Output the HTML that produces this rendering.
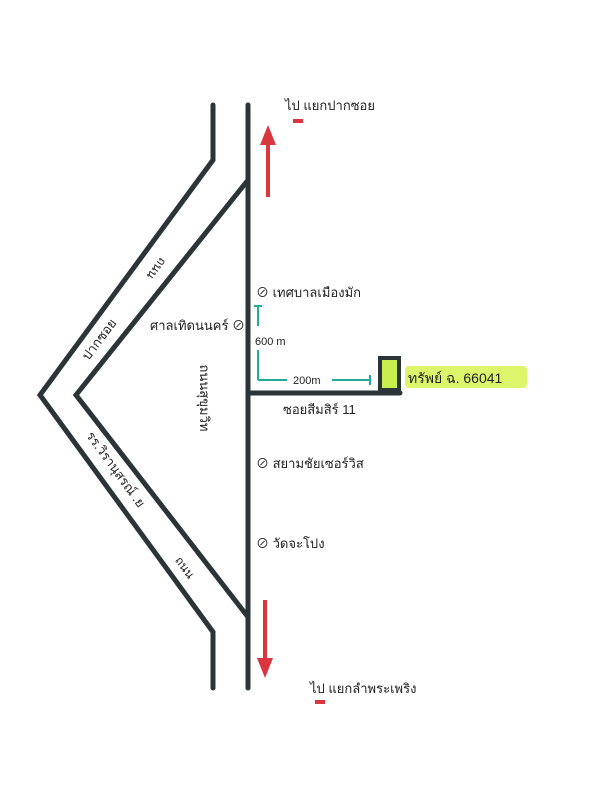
<!DOCTYPE html>
<html><head><meta charset="utf-8"><style>
html,body{margin:0;padding:0;background:#fff;}
svg{display:block;}
text{font-family:"Liberation Sans","Noto Sans CJK SC",sans-serif;fill:#222;}
</style></head><body>
<svg width="602" height="800" viewBox="0 0 602 800" xmlns="http://www.w3.org/2000/svg">
<g stroke="#2b3436" stroke-width="5" fill="none" stroke-linecap="round" stroke-linejoin="miter">
<polyline points="213,105 213,160 40,395 213,632 213,688"/>
<polyline points="248,105 248,688"/>
<polyline points="248,180 76,395 248,617"/>
<line x1="248" y1="393" x2="400" y2="393"/>
</g>
<rect x="380" y="358" width="19" height="32" fill="#c9ef4f" stroke="#2b3436" stroke-width="4"/>
<g stroke="#d9363e" stroke-width="4" fill="#d9363e">
<line x1="268" y1="197" x2="268" y2="140"/>
<polygon points="260,145 268,125 276,145" stroke="none"/>
<line x1="265" y1="600" x2="265" y2="662"/>
<polygon points="257,658 265,678 273,658" stroke="none"/>
<line x1="293" y1="121" x2="303" y2="121"/>
<line x1="315" y1="702" x2="325" y2="702"/>
</g>
<g stroke="#1faa9a" stroke-width="2">
<line x1="258" y1="306" x2="258" y2="326"/><line x1="254" y1="306" x2="262" y2="306"/>
<line x1="258" y1="350" x2="258" y2="380"/><line x1="258" y1="380" x2="287" y2="380"/>
<line x1="332" y1="380" x2="370" y2="380"/><line x1="370" y1="375" x2="370" y2="385"/>
</g>
<rect x="405" y="366" width="122" height="22" rx="4" fill="#dcf56a"/>
<g font-size="13">
<text x="285" y="110">ไป  แยกปากซอย</text>
<text x="310" y="693">ไป  แยกลำพระเพริง</text>
<text x="256" y="297">⊘ เทศบาลเมืองมัก</text>
<text x="150" y="330">ศาลเทิดนนคร์ ⊘</text>
<text x="255" y="345" font-size="11">600 m</text>
<text x="293" y="384" font-size="11">200m</text>
<text x="408" y="383" font-size="14">ทรัพย์  ฉ. 66041</text>
<text x="283" y="414">ซอยสีมสิร์ 11</text>
<text x="256" y="468">⊘ สยามชัยเซอร์วิส</text>
<text x="256" y="548">⊘ วัดจะโปง</text>
<text transform="translate(200,398) rotate(90)" text-anchor="middle">ถนนสุขุมวิท</text>
<g text-anchor="middle" dominant-baseline="middle">
<text transform="translate(156,268) rotate(127)" font-size="12">ถนน</text>
<text transform="translate(100,340) rotate(-53)">ปากซอย</text>
<text transform="translate(115,470) rotate(54)">รร.วิรานุสรณ์ .ย</text>
<text transform="translate(184,568) rotate(54)" font-size="12">ถนน</text>
</g>
</g>
</svg>
</body></html>
